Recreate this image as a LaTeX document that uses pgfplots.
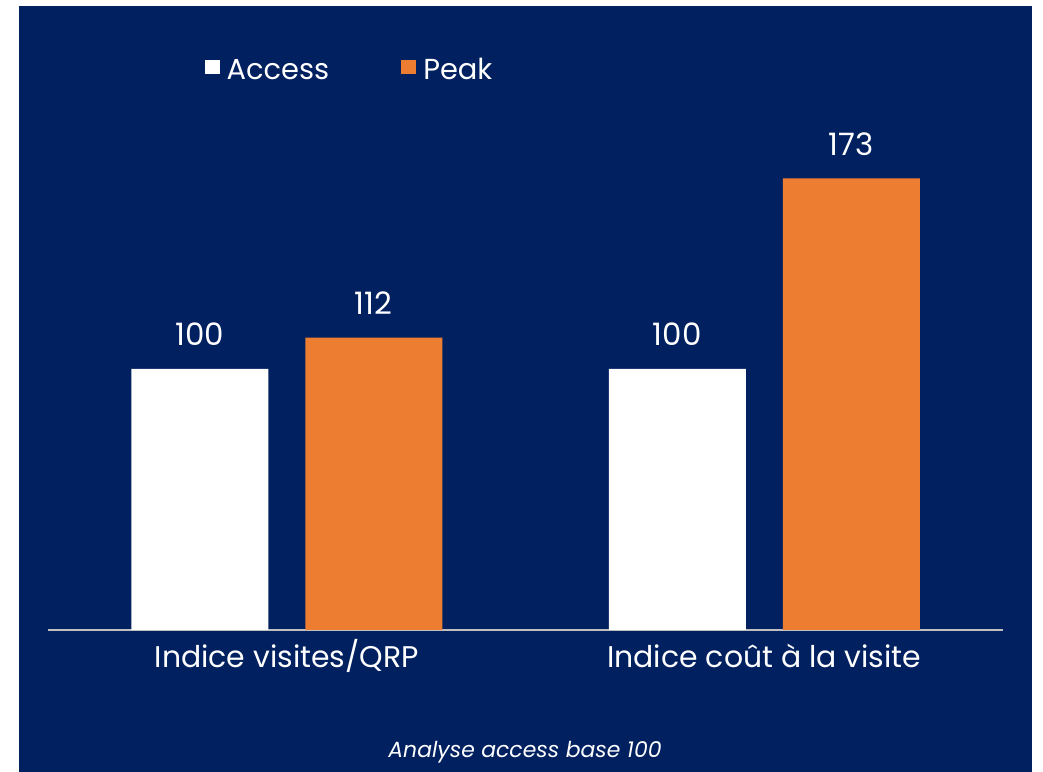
\documentclass[border=0pt]{standalone}
\usepackage{pgfplots}
\pgfplotsset{compat=1.18}
\usepackage{fontspec}
\setmainfont{Poppins}
\definecolor{navy}{HTML}{002060}
\definecolor{peak}{HTML}{ED7D31}
\definecolor{axgray}{HTML}{BFBFBF}
\begin{document}
\begin{tikzpicture}[x=1bp,y=1bp]
\fill[white] (0,0) rectangle (1043,772);
\fill[navy] (19,0) rectangle (1032,766);
\begin{axis}[
  at={(48bp,142bp)}, anchor=south west,
  scale only axis, width=955bp, height=522bp,
  xmin=-0.5, xmax=1.5, ymin=0, ymax=200,
  ybar=37bp, bar width=137bp,
  axis x line=bottom, axis y line=none,
  x axis line style={-, draw=axgray, line width=1.5bp},
  xtick={0,1}, xticklabels={Indice visites/QRP, Indice coût à la visite},
  major tick length=0pt,
  ytick=\empty,
  xticklabel style={font=\fontsize{30}{34}\selectfont, text=white, anchor=base, yshift=-38bp},
  nodes near coords,
  every node near coord/.append style={font=\fontsize{31}{34}\selectfont, text=white, anchor=base, yshift=23bp},
  /pgf/number format/assume math mode=true,
  legend style={at={(0.3157,1.0728)}, anchor=center, draw=none, fill=none,
    text=white, font=\fontsize{29}{32}\selectfont, legend columns=2,
    /tikz/every even column/.append style={column sep=70bp}},
  legend image code/.code={\fill[#1] (0bp,-4bp) rectangle (15bp,10bp); \path (20bp,0bp);},
]
\addplot[draw=none, fill=white] coordinates {(0,100) (1,100)};
\addplot[draw=none, fill=peak] coordinates {(0,112) (1,173)};
\legend{Access, Peak}
\end{axis}
\node[text=white, font=\itshape\fontsize{22}{26}\selectfont, anchor=base] at (525,14) {Analyse access base 100};
\end{tikzpicture}
\end{document}
